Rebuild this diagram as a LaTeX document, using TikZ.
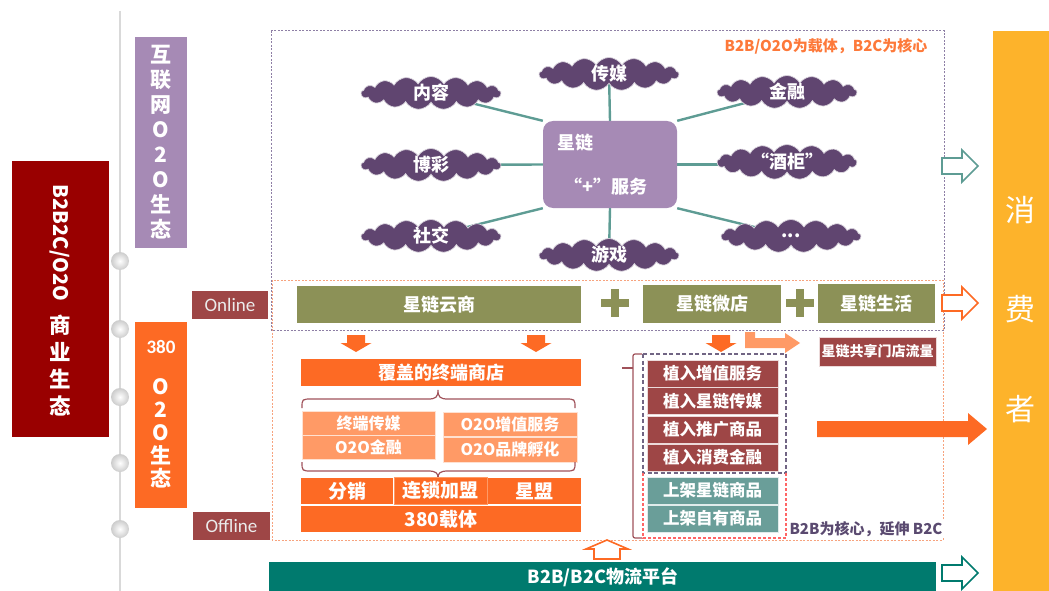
\documentclass[tikz,border=0pt]{standalone}
\usepackage{fontspec}
\setmainfont{Carlito}
\newfontfamily\cjk{Noto Sans CJK SC}
\usetikzlibrary{shapes.symbols,backgrounds}
\definecolor{dred}{HTML}{990000}
\definecolor{lpurple}{HTML}{A68AB5}
\definecolor{dpurple}{HTML}{604570}
\definecolor{orangeM}{HTML}{FD6A24}
\definecolor{orangeL}{HTML}{FF9A66}
\definecolor{brownred}{HTML}{9E4646}
\definecolor{oliveG}{HTML}{8C9157}
\definecolor{tealD}{HTML}{007A6E}
\definecolor{tealL}{HTML}{5E9C94}
\definecolor{tealB}{HTML}{6A9E99}
\definecolor{amber}{HTML}{FDB32B}
\definecolor{gline}{HTML}{D9D9D9}
\definecolor{bracec}{HTML}{A0525A}
\definecolor{dashp}{HTML}{8E7FA5}
\definecolor{dasho}{HTML}{F7A37E}
\definecolor{txtp}{HTML}{5A4A70}
\newcommand\hollowarrow[3]{\draw[hol,draw=#3] (#1,#2) ++(0,-8) -- ++(20,0) -- ++(0,-8) -- ++(16,16) -- ++(-16,16) -- ++(0,-8) -- ++(-20,0) -- cycle;}
\newcommand\downarr[1]{\fill[orangeM] (#1-9,335) -- (#1+9,335) -- (#1+9,343) -- (#1+15.5,343) -- (#1,352) -- (#1-15.5,343) -- (#1-9,343) -- cycle;}
\tikzset{
  cjkb/.style={font=\cjk\bfseries\fontsize{#1}{#1}\selectfont},
  bx/.style={rectangle, inner sep=0, text=white},
  cl/.style={cloud, cloud puffs=17, cloud puff arc=120, cloud ignores aspect, fill=dpurple, draw=white!75!dpurple, line width=0.7pt, minimum width=140pt, minimum height=33pt, inner sep=0, text=white, cjkb=18},
  spoke/.style={draw=tealL, line width=2.4pt},
  dot/.style={circle, minimum size=18pt, inner sep=0, shading=radial, inner color=white, outer color=gray!40},
  hol/.style={line width=1.6pt, fill=white, line join=miter},
  tag/.style={bx, fill=brownred, text=white!92!black, font=\fontsize{19}{19}\selectfont},
  zr/.style={bx, fill=brownred, draw=white!80!brownred, line width=0.8pt, minimum width=131pt, minimum height=27pt, cjkb=16.5},
  sj/.style={bx, fill=tealB, draw=white!80!tealB, line width=0.8pt, minimum width=131pt, minimum height=27pt, cjkb=16.5},
  lo/.style={bx, fill=orangeL, draw=white!70!orangeL, line width=0.6pt, cjkb=16},
  om/.style={bx, fill=orangeM, cjkb=18},
  ol/.style={bx, fill=oliveG, cjkb=18},
  brc/.style={draw=bracec, line width=1.2pt},
}
\begin{document}
\begin{tikzpicture}[x=1pt,y=-1pt]
\useasboundingbox (0,0) rectangle (1049,591);
% timeline
\coordinate (ltop) at (120,11);
\coordinate (lbot) at (120,593);
\draw[gline, line width=2pt] (ltop) -- (lbot);
\foreach \i/\yy in {1/261,2/329,3/397,4/463,5/529}{\node[dot] (d\i) at (120,\yy) {};}
% left boxes
\node[bx, fill=dred, minimum width=97pt, minimum height=276pt] (eco) at (60.5,299) {};
\node[cjkb=20, text=white, rotate=-90] (ecot) at (60,243) {B2B2C/O2O};
\node[text=white, align=center, font=\cjk\bfseries\fontsize{21.5}{27}\selectfont] (ecoc) at (60,366) {商\\业\\生\\态};
\node[bx, fill=lpurple, minimum width=52pt, minimum height=211pt] (net) at (161,142.5) {};
\node[text=white, align=center, font=\cjk\bfseries\fontsize{21}{25}\selectfont] (nett) at (161,142.5) {互\\联\\网\\O\\2\\O\\生\\态};
\node[bx, fill=orangeM, minimum width=52pt, minimum height=186pt] (o2o) at (161,415) {};
\node[text=white, font=\bfseries\fontsize{19}{19}\selectfont] (o2on) at (161,347) {380};
\node[text=white, align=center, font=\cjk\bfseries\fontsize{21}{23}\selectfont] (o2ot) at (161,433.5) {O\\2\\O\\生\\态};
\node[tag, minimum width=76pt, minimum height=28pt] (online) at (230,305) {Online};
\node[tag, minimum width=77pt, minimum height=28pt] (offline) at (231.5,526) {Offline};
% dashed frames
\draw[dasho, line width=1pt, dash pattern=on 2pt off 1.5pt] (272,280) rectangle (943,540);
\draw[dashp, line width=1pt, dash pattern=on 2pt off 1.5pt] (271,31) rectangle (944,330);
\node[cjkb=15, text=orangeM!90!white] (topnote) at (826,46) {B2B/O2O为载体，B2C为核心};
% hub
\node[bx, fill=lpurple, rounded corners=10pt, minimum width=134pt, minimum height=87pt] (c) at (610,164.5) {};
\node[cjkb=18, text=white] (ct1) at (575,143) {星链};
\node[cjkb=18, text=white] (ct2) at (606,187) {“+”服务};
\node[cl] (k1) at (431,93) {内容};
\node[cl] (k2) at (609,74) {传媒};
\node[cl] (k3) at (787,92) {金融};
\node[cl] (k4) at (431,165) {博彩};
\node[cl] (k5) at (787,162) {“酒柜”};
\node[cl] (k6) at (431,236) {社交};
\node[cl] (k7) at (609,255) {游戏};
\node[cl] (k8) at (791,236) {...};
\begin{pgfonlayer}{background}
\draw[spoke] (c.north west) -- (k1.center);
\draw[spoke] (c.north) -- (k2.center);
\draw[spoke] (c.north east) -- (k3.center);
\draw[spoke] (c.west) -- (k4.center);
\draw[spoke] (c.east) -- (c.east -| k5.center);
\draw[spoke] (c.south west) -- (k6.center);
\draw[spoke] (c.south) -- (k7.center);
\draw[spoke] (c.south east) -- (k8.center);
\end{pgfonlayer}
% online bars
\node[ol, minimum width=284pt, minimum height=37pt] (yun) at (439,304.5) {星链云商};
\node[ol, minimum width=138pt, minimum height=38pt] (wei) at (712,304) {星链微店};
\node[ol, minimum width=117pt, minimum height=39pt] (sh) at (876.5,303.5) {星链生活};
\foreach \px in {615,800}{\draw[oliveG, line width=8pt] (\px-14,303) -- (\px+14,303) (\px,289) -- (\px,317);}
% right arrows
\hollowarrow{942}{166}{tealL}
\hollowarrow{942}{303}{orangeM}
\hollowarrow{942}{573}{tealD}
\fill[orangeM] (817,421) -- (968,421) -- (968,413) -- (987,429) -- (968,445) -- (968,437) -- (817,437) -- cycle;
% consumer
\node[bx, fill=amber, minimum width=58pt, minimum height=562pt] (cons) at (1022,312) {};
\foreach \ch/\yy in {消/210,费/309,者/409}{\node[text=white, font=\cjk\fontsize{30}{30}\selectfont] at (1020,\yy) {\ch};}
% down arrows
\downarr{356}
\downarr{536}
\downarr{721}
% bent arrow
\fill[orangeL] (745,332) -- (755,332) -- (755,338) -- (785,338) -- (785,333) -- (800,343) -- (785,353) -- (785,348) -- (745,348) -- cycle;
\node[bx, fill=brownred, draw=white!80!brownred, minimum width=117pt, minimum height=29pt, cjkb=14] (flow) at (877.5,351.5) {星链共享门店流量};
% offline left
\node[om, minimum width=280pt, minimum height=27pt] (cover) at (441,372.5) {覆盖的终端商店};
\draw[brc] (302,408) .. controls (302,399) and (302,399) .. (312,399) -- (428,399) .. controls (436,399) and (438,397) .. (438,390) .. controls (438,397) and (440,399) .. (448,399) -- (565,399) .. controls (575,399) and (575,399) .. (575,408);
\node[lo, minimum width=133pt, minimum height=24pt] (m1) at (368.5,423) {终端传媒};
\node[lo, minimum width=133pt, minimum height=24pt] (m2) at (368.5,447) {O2O金融};
\node[lo, minimum width=134pt, minimum height=24pt] (m3) at (510,424) {O2O增值服务};
\node[lo, minimum width=134pt, minimum height=25pt] (m4) at (510,449.5) {O2O品牌孵化};
\draw[brc] (302,462) .. controls (302,471) and (302,471) .. (312,471) -- (428,471) .. controls (436,471) and (438,473) .. (438,478) .. controls (438,473) and (440,471) .. (448,471) -- (565,471) .. controls (575,471) and (575,471) .. (575,462);
\node[om, minimum width=92pt, minimum height=26pt, cjkb=19] (fx) at (347,491) {分销};
\node[om, minimum width=280pt, minimum height=26pt, cjkb=19] (zt) at (441,519) {380载体};
\node[om, minimum width=94pt, minimum height=26pt, cjkb=19] (xm) at (534,491) {星盟};
\node[om, draw=orangeL, line width=1pt, minimum width=93pt, minimum height=27pt, cjkb=19] (ls) at (440.5,490.5) {连锁加盟};
% offline right
\draw[brc, rounded corners=2pt] (642,354) -- (633,354) -- (633,538) -- (642,538);
\draw[brc] (633,368) -- (622,368);
\node[zr] (z1) at (712.5,373.5) {植入增值服务};
\node[zr] (z2) at (712.5,401) {植入星链传媒};
\node[zr] (z3) at (712.5,429.5) {植入推广商品};
\node[zr] (z4) at (712.5,457.5) {植入消费金融};
\node[sj] (s1) at (712.5,490.5) {上架星链商品};
\node[sj] (s2) at (712.5,518.5) {上架自有商品};
\draw[dashp!80!black, line width=1.3pt, dash pattern=on 4pt off 2.5pt] (643,354) rectangle (786,473);
\draw[red!60!white, line width=1.2pt, dash pattern=on 3pt off 2pt] (643,473) -- (643,538) -- (786,538) -- (786,473);
\node[cjkb=15, text=txtp, fill=white, inner sep=1pt] (b2bnote) at (866,529) {B2B为核心，延伸 B2C};
% bottom
\draw[hol, draw=orangeM] (594,559) -- (594,549) -- (586,549) -- (607,540) -- (628,549) -- (620,549) -- (620,559) -- cycle;
\node[bx, fill=tealD, minimum width=667pt, minimum height=31pt] (log) at (602.5,577.5) {};
\node[cjkb=18, text=white] (logt) at (603,577) {B2B/B2C物流平台};
\end{tikzpicture}
\end{document}
